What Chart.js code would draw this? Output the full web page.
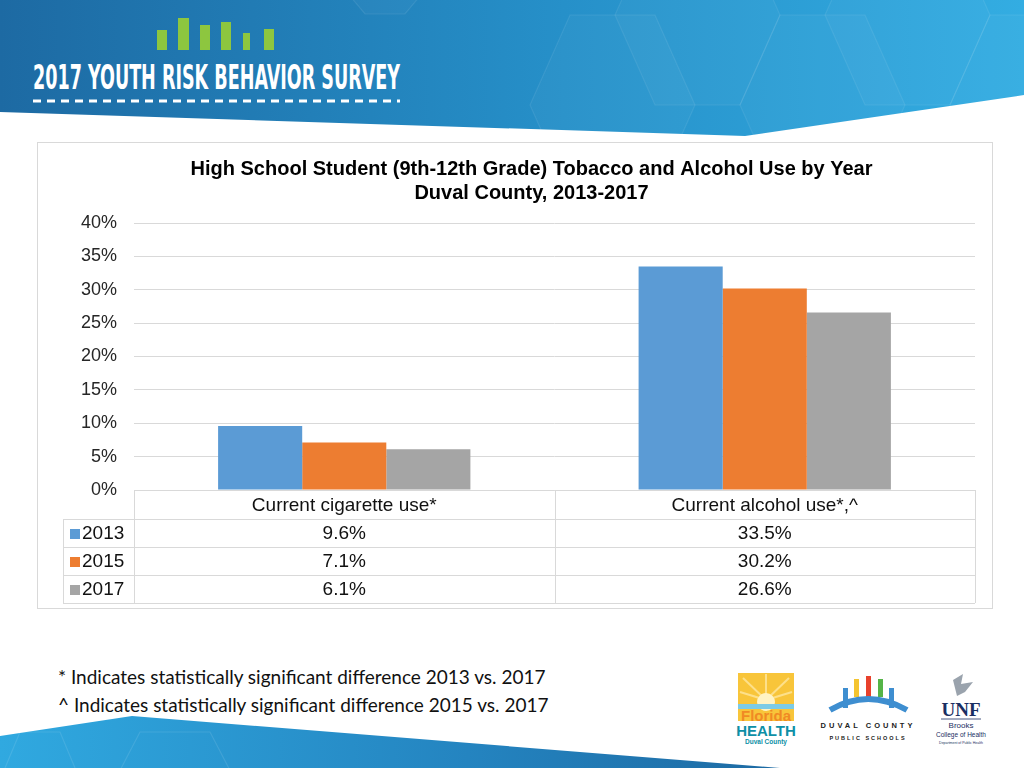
<!DOCTYPE html>
<html>
<head>
<meta charset="utf-8">
<script src="https://cdn.jsdelivr.net/npm/chart.js@4.4.1/dist/chart.umd.min.js"></script>
<style>
  body { margin: 0; }
  #page { position: relative; width: 1024px; height: 768px; overflow: hidden; background: #fff; font-family: Arial, "Liberation Sans", sans-serif; }
  .abs { position: absolute; }
  #box { left: 37px; top: 142px; width: 956px; height: 467px; border: 1px solid #d9d9d9; box-sizing: border-box; }
  #wrap { left: 63px; top: 142px; width: 937px; height: 467px; }
  #notes { left: 58px; top: 663px; font-family: Lato, "Open Sans", sans-serif; font-size: 19px; color: #111; line-height: 28px; }
</style>
</head>
<body>
<div id="page">

  <svg class="abs" style="left:0;top:0" width="1024" height="140">
    <defs>
      <linearGradient id="hdr" x1="0" x2="1" y1="0" y2="0">
        <stop offset="0" stop-color="#1d6aa3"/>
        <stop offset="0.55" stop-color="#2690c9"/>
        <stop offset="1" stop-color="#33ade2"/>
      </linearGradient>
    </defs>
    <polygon points="0,0 1024,0 1024,95 745,136 0,112" fill="url(#hdr)"/>
    <g fill="rgba(255,255,255,0.03)" stroke="rgba(255,255,255,0.08)" stroke-width="1.2">
      <polygon points="345,-60 405,-60 425,-10 405,14 365,14 345,-10"/>
      <polygon points="570,15 655,15 695,105 655,195 570,195 530,105"/>
      <polygon points="655,-75 740,-75 780,15 740,105 655,105 615,15"/>
      <polygon points="780,15 865,15 905,105 865,195 780,195 740,105"/>
      <polygon points="865,-75 950,-75 990,15 950,105 865,105 825,15"/>
      <polygon points="990,15 1075,15 1115,105 1075,195 990,195 950,105"/>
    </g>
    <g fill="#8dc63f">
      <rect x="157" y="30" width="10" height="20"/>
      <rect x="178" y="18" width="11" height="32"/>
      <rect x="200" y="25" width="10" height="25"/>
      <rect x="221" y="22" width="10" height="28"/>
      <rect x="243" y="33" width="7" height="17"/>
      <rect x="264" y="29" width="10" height="21"/>
    </g>
    <text x="33" y="89" fill="#fff" font-family="DejaVu Sans Condensed, DejaVu Sans" font-weight="bold" font-size="34" textLength="367" lengthAdjust="spacingAndGlyphs">2017 YOUTH RISK BEHAVIOR SURVEY</text>
    <line x1="33" y1="101" x2="400" y2="101" stroke="#fff" stroke-width="3" stroke-dasharray="8,6"/>
  </svg>

  <div id="box" class="abs"></div>
  <div id="wrap" class="abs"><canvas id="chart"></canvas></div>

  <div id="notes" class="abs">
    <div>* Indicates statistically significant difference 2013 vs. 2017</div>
    <div>^ Indicates statistically significant difference 2015 vs. 2017</div>
  </div>

  <svg class="abs" style="left:0;top:700px" width="1024" height="68">
    <defs>
      <linearGradient id="ftr" x1="0" x2="1" y1="0" y2="0">
        <stop offset="0" stop-color="#30a9e0"/>
        <stop offset="0.6" stop-color="#2484c0"/>
        <stop offset="1" stop-color="#1d6aa3"/>
      </linearGradient>
    </defs>
    <polygon points="0,36 132,16 780,68 0,68" fill="url(#ftr)"/>
    <g fill="none" stroke="rgba(255,255,255,0.1)" stroke-width="1.2">
      <polygon points="20,32 60,32 80,80 60,128 20,128 0,80"/>
      <polygon points="140,32 210,32 235,80 210,128 140,128 115,80"/>
    </g>
  </svg>

  <svg class="abs" style="left:735px;top:670px" width="270" height="80">
    <!-- Florida Health -->
    <rect x="3" y="3" width="56" height="48" fill="#f8c53a"/>
    <g stroke="#fde08a" stroke-width="2">
      <line x1="31" y1="30" x2="8" y2="8"/><line x1="31" y1="30" x2="31" y2="4"/><line x1="31" y1="30" x2="54" y2="8"/>
      <line x1="31" y1="30" x2="5" y2="22"/><line x1="31" y1="30" x2="57" y2="22"/>
    </g>
    <circle cx="31" cy="32" r="9" fill="#fff3c4"/>
    <rect x="3" y="34" width="56" height="5" fill="#7ccbe6"/>
    <text x="31" y="51" text-anchor="middle" font-family="Arial" font-weight="bold" font-size="15" fill="#f08a24">Florida</text>
    <text x="31" y="66" text-anchor="middle" font-family="Arial" font-weight="bold" font-size="15" fill="#0e8fa6">HEALTH</text>
    <text x="31" y="74" text-anchor="middle" font-family="Arial" font-weight="bold" font-size="6.5" fill="#0e8fa6">Duval County</text>
    <!-- Duval County Public Schools -->
    <rect x="119" y="9" width="5" height="18" fill="#f4c430"/>
    <rect x="131" y="6" width="5" height="21" fill="#e8412c"/>
    <rect x="143" y="9" width="5" height="18" fill="#55b447"/>
    <path d="M95 40 Q133 18 172 40" stroke="#3e8ed0" stroke-width="6" fill="none"/>
    <rect x="108" y="18" width="5" height="20" fill="#3e8ed0"/>
    <rect x="154" y="18" width="5" height="20" fill="#3e8ed0"/>
    <text x="133" y="58" text-anchor="middle" font-family="Arial" font-weight="bold" font-size="7.5" letter-spacing="3" fill="#222">DUVAL COUNTY</text>
    <text x="133" y="70" text-anchor="middle" font-family="Arial" font-weight="bold" font-size="5.5" letter-spacing="2" fill="#222">PUBLIC SCHOOLS</text>
    <!-- UNF -->
    <path d="M218 10 L228 4 L226 14 L238 12 L230 22 L222 26 Z" fill="#9aa3ad"/>
    <text x="226" y="46" text-anchor="middle" font-family="Liberation Serif, serif" font-weight="bold" font-size="19" fill="#1a2f63">UNF</text>
    <line x1="206" y1="49" x2="246" y2="49" stroke="#1a2f63" stroke-width="0.8"/>
    <text x="226" y="58" text-anchor="middle" font-family="Arial" font-size="8" fill="#1a2f63">Brooks</text>
    <text x="226" y="67" text-anchor="middle" font-family="Arial" font-size="6.5" fill="#1a2f63">College of Health</text>
    <text x="226" y="74" text-anchor="middle" font-family="Arial" font-size="3.5" fill="#1a2f63">Department of Public Health</text>
  </svg>
</div>

<script>
// chart data
const categories = ['Current cigarette use*', 'Current alcohol use*,^'];
const years = ['2013', '2015', '2017'];
const values2013 = [9.6, 33.5];
const values2015 = [7.1, 30.2];
const values2017 = [6.1, 26.6];
const yTicks = [0, 5, 10, 15, 20, 25, 30, 35, 40];

const colors = ['#5b9bd5', '#ed7d31', '#a5a5a5'];
const seriesValues = [values2013, values2015, values2017];
const lineColor = '#d9d9d9';
const font = 'Arial, "Liberation Sans", sans-serif';

// data table drawn under the plot, lined up on the x scale
const dataTable = {
  id: 'dataTable',
  afterDraw(chart) {
    const ctx = chart.ctx;
    const area = chart.chartArea;
    const x = chart.scales.x;
    const headH = 29, rowH = 28;
    const top = area.bottom;
    const left = 0;
    const mid = (x.getPixelForValue(0) + x.getPixelForValue(1)) / 2;
    const bottom = top + headH + rowH * years.length;

    ctx.save();
    ctx.strokeStyle = lineColor;
    ctx.lineWidth = 1;
    const h = (y1, a, b) => { ctx.beginPath(); ctx.moveTo(a, Math.round(y1) + 0.5); ctx.lineTo(b, Math.round(y1) + 0.5); ctx.stroke(); };
    const v = (x1, a, b) => { ctx.beginPath(); ctx.moveTo(Math.round(x1) + 0.5, a); ctx.lineTo(Math.round(x1) + 0.5, b); ctx.stroke(); };

    h(top, area.left, area.right);
    for (let i = 0; i <= years.length; i++) h(top + headH + rowH * i, left, area.right);
    v(left, top + headH, bottom);
    v(area.left, top, bottom);
    v(mid, top, bottom);
    v(area.right, top, bottom);

    ctx.font = '19px ' + font;
    ctx.fillStyle = '#111';
    ctx.textBaseline = 'middle';
    ctx.textAlign = 'center';
    categories.forEach((c, i) => ctx.fillText(c, x.getPixelForValue(i), top + headH / 2 + 1));

    years.forEach((yr, r) => {
      const cy = top + headH + rowH * r + rowH / 2 + 1;
      ctx.fillStyle = colors[r];
      ctx.fillRect(left + 7, cy - 5, 10, 10);
      ctx.fillStyle = '#111';
      ctx.textAlign = 'left';
      ctx.fillText(yr, left + 19, cy);
      ctx.textAlign = 'center';
      seriesValues[r].forEach((val, i) => ctx.fillText(val.toFixed(1) + '%', x.getPixelForValue(i), cy));
    });
    ctx.restore();
  }
};

new Chart(document.getElementById('chart'), {
  type: 'bar',
  data: {
    labels: categories,
    datasets: years.map((yr, i) => ({
      label: yr,
      data: seriesValues[i],
      backgroundColor: colors[i],
      borderWidth: 0,
      barPercentage: 1,
      categoryPercentage: 0.6
    }))
  },
  options: {
    responsive: true,
    maintainAspectRatio: false,
    animation: false,
    layout: { padding: { top: 0, right: 0, bottom: 119, left: 0 } },
    plugins: {
      legend: { display: false },
      tooltip: { enabled: false },
      title: {
        display: true,
        text: ['High School Student (9th-12th Grade) Tobacco and Alcohol Use by Year', 'Duval County, 2013-2017'],
        color: '#000',
        font: { family: font, size: 20, weight: 'bold', lineHeight: 1.2 },
        padding: { top: 15, bottom: 18 }
      }
    },
    scales: {
      x: { display: false },
      y: {
        min: 0,
        max: 40,
        afterBuildTicks: s => { s.ticks = yTicks.map(t => ({ value: t })); },
        afterFit: s => { s.width = 71; },
        border: { display: false },
        grid: { color: lineColor, drawTicks: false },
        ticks: {
          color: '#262626',
          padding: 17,
          font: { family: font, size: 18 },
          callback: val => val + '%'
        }
      },
      // empty right-hand axis, only keeps the plot clear of the box edge
      yRight: {
        position: 'right',
        min: 0,
        max: 40,
        border: { display: false },
        grid: { display: false },
        ticks: { display: false },
        afterFit: s => { s.width = 25; }
      }
    }
  },
  plugins: [dataTable]
});
</script>
</body>
</html>
